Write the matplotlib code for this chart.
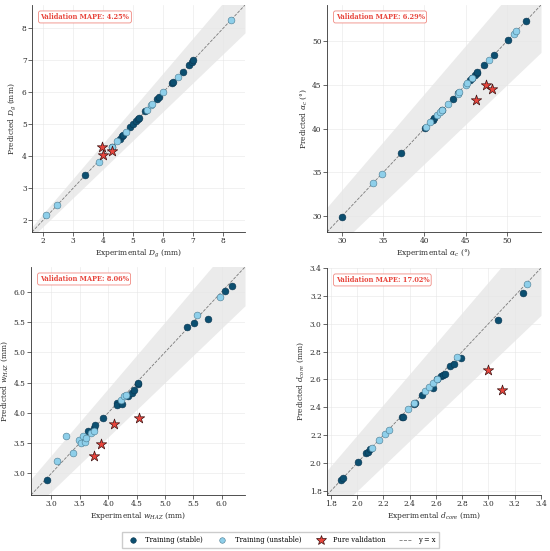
import matplotlib
matplotlib.use("Agg")
import matplotlib.pyplot as plt
import numpy as np
from matplotlib.lines import Line2D

plt.rcParams['font.family'] = ['DejaVu Serif']
plt.rcParams['mathtext.fontset'] = 'dejavuserif'

# ---------------- data ----------------
# Panel 1: D_g (mm)
dg_stable_x = [3.40, 4.30, 4.55, 4.62, 4.66, 4.90, 5.00, 5.10, 5.15, 5.20, 5.40, 5.80, 5.85, 6.30, 6.33, 6.65, 6.85, 6.95, 7.00]
dg_stable_y = [3.40, 4.30, 4.55, 4.62, 4.66, 4.90, 5.00, 5.10, 5.15, 5.20, 5.40, 5.78, 5.85, 6.30, 6.33, 6.65, 6.85, 6.95, 7.00]
dg_unstable_x = [2.10, 2.47, 3.85, 4.28, 4.47, 4.75, 5.45, 5.60, 5.63, 6.00, 6.48, 8.25]
dg_unstable_y = [2.16, 2.47, 3.83, 4.28, 4.47, 4.75, 5.45, 5.60, 5.63, 6.02, 6.47, 8.25]
dg_val_x = [3.95, 4.00, 4.28]
dg_val_y = [4.28, 4.03, 4.15]

# Panel 2: alpha_c (deg)
ac_stable_x = [30.0, 37.2, 40.1, 41.0, 41.2, 42.1, 43.4, 44.1, 45.5, 45.8, 46.1, 46.3, 46.4, 47.2, 48.4, 50.1, 52.3]
ac_stable_y = [29.9, 37.2, 40.1, 41.0, 41.2, 42.1, 43.4, 44.1, 45.5, 45.8, 46.1, 46.3, 46.4, 47.2, 48.4, 50.1, 52.3]
ac_unstable_x = [33.8, 34.8, 40.2, 40.7, 41.5, 41.9, 42.1, 42.8, 44.0, 44.2, 45.0, 45.2, 45.8, 47.8, 50.8, 51.1]
ac_unstable_y = [33.8, 34.8, 40.2, 40.7, 41.5, 41.9, 42.1, 42.8, 44.0, 44.2, 45.0, 45.2, 45.8, 47.8, 50.8, 51.1]
ac_val_x = [46.2, 47.5, 48.2]
ac_val_y = [43.3, 45.0, 44.5]

# Panel 3: w_HAZ (mm)
wh_stable_x = [2.92, 3.65, 3.75, 3.76, 3.90, 4.15, 4.15, 4.25, 4.35, 4.42, 4.45, 4.52, 4.52, 5.38, 5.52, 5.75, 6.05, 6.18]
wh_stable_y = [2.89, 3.70, 3.75, 3.79, 3.92, 4.16, 4.13, 4.15, 4.27, 4.33, 4.38, 4.47, 4.50, 5.42, 5.49, 5.55, 6.02, 6.10]
wh_unstable_x = [3.10, 3.25, 3.38, 3.48, 3.52, 3.56, 3.60, 3.61, 3.70, 3.75, 4.22, 4.28, 4.32, 5.56, 5.97]
wh_unstable_y = [3.20, 3.61, 3.34, 3.55, 3.50, 3.62, 3.52, 3.59, 3.66, 3.69, 4.21, 4.27, 4.30, 5.62, 5.91]
wh_val_x = [3.75, 3.87, 4.10, 4.54]
wh_val_y = [3.29, 3.48, 3.81, 3.92]

# Panel 4: d_core (mm)
dc_stable_x = [1.875, 1.89, 2.005, 2.07, 2.08, 2.10, 2.34, 2.35, 2.43, 2.44, 2.49, 2.58, 2.61, 2.64, 2.65, 2.665, 2.71, 2.735, 2.79, 3.07, 3.26]
dc_stable_y = [1.875, 1.89, 2.005, 2.07, 2.08, 2.10, 2.33, 2.33, 2.42, 2.43, 2.485, 2.54, 2.60, 2.625, 2.635, 2.64, 2.695, 2.71, 2.755, 3.025, 3.22]
dc_unstable_x = [2.11, 2.165, 2.21, 2.24, 2.385, 2.43, 2.52, 2.545, 2.575, 2.605, 2.76, 3.29]
dc_unstable_y = [2.11, 2.165, 2.21, 2.24, 2.385, 2.43, 2.52, 2.545, 2.575, 2.605, 2.76, 3.285]
dc_val_x = [2.995, 3.105]
dc_val_y = [2.67, 2.525]

panels = [
    dict(sx=dg_stable_x, sy=dg_stable_y, ux=dg_unstable_x, uy=dg_unstable_y, vx=dg_val_x, vy=dg_val_y,
         lim=(1.63, 8.73), ticks=[2, 3, 4, 5, 6, 7, 8], fmt='{:.0f}',
         xl=r'Experimental $D_g$ (mm)', yl=r'Predicted $D_g$ (mm)', mape='Validation MAPE: 4.25%'),
    dict(sx=ac_stable_x, sy=ac_stable_y, ux=ac_unstable_x, uy=ac_unstable_y, vx=ac_val_x, vy=ac_val_y,
         lim=(28.2, 54.1), ticks=[30, 35, 40, 45, 50], fmt='{:.0f}',
         xl=r'Experimental $\alpha_c$ (°)', yl=r'Predicted $\alpha_c$ (°)', mape='Validation MAPE: 6.29%'),
    dict(sx=wh_stable_x, sy=wh_stable_y, ux=wh_unstable_x, uy=wh_unstable_y, vx=wh_val_x, vy=wh_val_y,
         lim=(2.64, 6.41), ticks=[3.0, 3.5, 4.0, 4.5, 5.0, 5.5, 6.0], fmt='{:.1f}',
         xl=r'Experimental $w_{HAZ}$ (mm)', yl=r'Predicted $w_{HAZ}$ (mm)', mape='Validation MAPE: 8.06%'),
    dict(sx=dc_stable_x, sy=dc_stable_y, ux=dc_unstable_x, uy=dc_unstable_y, vx=dc_val_x, vy=dc_val_y,
         lim=(1.77, 3.40), ticks=[1.8, 2.0, 2.2, 2.4, 2.6, 2.8, 3.0, 3.2, 3.4], fmt='{:.1f}',
         xl=r'Experimental $d_{core}$ (mm)', yl=r'Predicted $d_{core}$ (mm)', mape='Validation MAPE: 17.02%'),
]

W, H = 550, 551
boxes_px = [(32, 5, 245, 232), (327, 5, 541, 232), (31, 267, 245, 495), (327, 268, 541, 495)]

C_STABLE = '#0c4f70'
C_UNSTABLE = '#8ecfea'
C_VAL = '#e8453c'

fig = plt.figure(figsize=(W / 100, H / 100), dpi=100)

for p, (l, t, r, b) in zip(panels, boxes_px):
    ax = fig.add_axes([l / W, (H - b) / H, (r - l) / W, (b - t) / H])
    lo, hi = p['lim']
    xs = np.linspace(lo, hi, 50)
    ax.fill_between(xs, xs * 0.9, xs * 1.1, color='#ebebeb', lw=0, zorder=0)
    ax.plot([lo, hi], [lo, hi], ls='--', color='#7a7a7a', lw=0.6, zorder=1)
    ax.scatter(p['sx'], p['sy'], s=24, c=C_STABLE, edgecolors='#0a3550', linewidths=0.4, zorder=3)
    ax.scatter(p['ux'], p['uy'], s=24, c=C_UNSTABLE, edgecolors='#4a7a90', linewidths=0.4, zorder=3)
    ax.scatter(p['vx'], p['vy'], s=62, marker='*', c=C_VAL, edgecolors='#3a1010', linewidths=0.5, zorder=4)
    ax.set_xlim(lo, hi)
    ax.set_ylim(lo, hi)
    ax.set_xticks(p['ticks'])
    ax.set_yticks(p['ticks'])
    ax.set_xticklabels([p['fmt'].format(v) for v in p['ticks']])
    ax.set_yticklabels([p['fmt'].format(v) for v in p['ticks']])
    ax.tick_params(labelsize=5.3, length=2.6, width=0.5, colors='#2a2a2a', pad=1.2)
    ax.grid(True, color='#e6e6e6', lw=0.5, alpha=0.8)
    ax.set_axisbelow(True)
    for s in ['top', 'right']:
        ax.spines[s].set_visible(False)
    for s in ['left', 'bottom']:
        ax.spines[s].set_color('#333333')
        ax.spines[s].set_linewidth(0.6)
    ax.set_xlabel(p['xl'], fontsize=5.4, color='#2a2a2a', labelpad=1.5)
    ax.set_ylabel(p['yl'], fontsize=5.4, color='#2a2a2a', labelpad=2.5)
    ax.text(0.04, 0.965, p['mape'], transform=ax.transAxes, fontsize=4.8, fontweight='bold',
            color='#e8453c', va='top', ha='left',
            bbox=dict(boxstyle='round,pad=0.3', fc='white', ec='#f08a82', lw=0.6))

handles = [
    Line2D([], [], ls='none', marker='o', markersize=4, mfc=C_STABLE, mec='#0a3550', mew=0.4, label='Training (stable)'),
    Line2D([], [], ls='none', marker='o', markersize=4, mfc=C_UNSTABLE, mec='#4a7a90', mew=0.4, label='Training (unstable)'),
    Line2D([], [], ls='none', marker='*', markersize=7, mfc=C_VAL, mec='#3a1010', mew=0.5, label='Pure validation'),
    Line2D([], [], ls='--', color='#7a7a7a', lw=0.6, label='y = x'),
]
fig.legend(handles=handles, loc='center', bbox_to_anchor=(280.5 / W, 1 - 540 / H), ncol=4, fontsize=4.9,
           frameon=True, fancybox=False, edgecolor='#cccccc', handlelength=2.0, columnspacing=1.9,
           borderpad=0.6, handletextpad=0.8, framealpha=1)

fig.savefig('out.png', dpi=100)
